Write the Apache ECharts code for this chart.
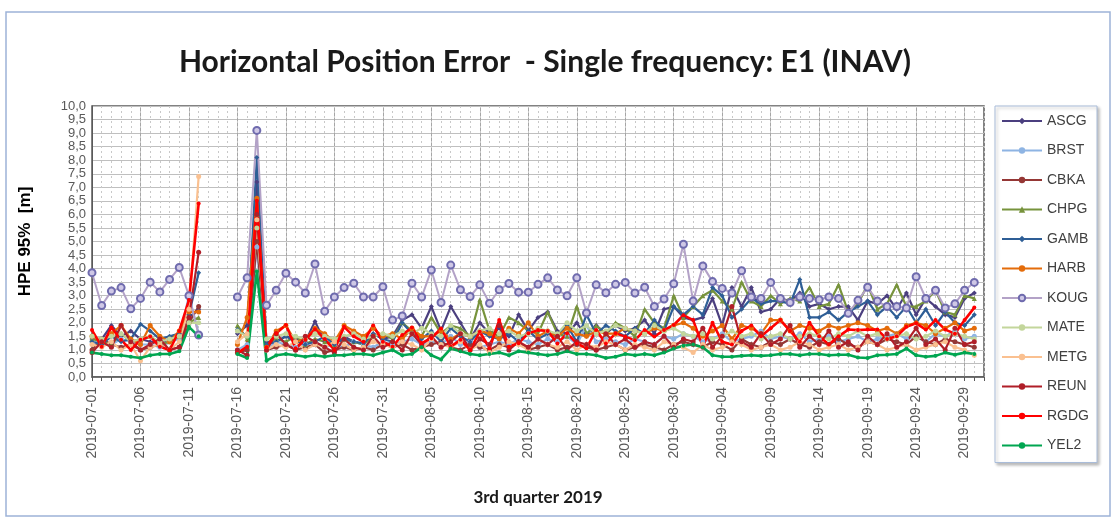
<!DOCTYPE html>
<html>
<head>
<meta charset="utf-8">
<script src="https://cdn.jsdelivr.net/npm/echarts@6/dist/echarts.min.js"></script>
<style>
  html, body { margin: 0; padding: 0; background: #fff; }
  #chart { width: 1117px; height: 519px; }
</style>
</head>
<body>
<div id="chart"></div>
<script>
// days 2019-07-01 .. 2019-10-01 (last one only closes the axis)
var days = [];
var d0 = Date.UTC(2019, 6, 1);
for (var i = 0; i < 93; i++) {
    days.push(new Date(d0 + i * 86400000).toISOString().slice(0, 10));
}

var stations = ['ASCG', 'BRST', 'CBKA', 'CHPG', 'GAMB', 'HARB', 'KOUG', 'MATE', 'METG', 'REUN', 'RGDG', 'YEL2'];
var colors = ['#4B3F7F', '#8EB4E3', '#953735', '#77933C', '#2E5E96', '#E46C0A', '#B3A2C7', '#C3D69B', '#FAC090', '#B01E28', '#FF0000', '#00A651'];

var n = null;
// HPE 95% [m], one value per day (jul / aug / sep)
var ASCG = [1.4, 1.4, 1.9, 1.5, 1.7, 1.4, 1.3, 1.25, 1.4, 1.6, 2.2, 2.5, n, n, n, 1.6, 1.9, 7.2, 1.3, 1.3, 1.5, 1.4, 1.3, 2.05, 1.3, 1.2, 1.5, 1.3, 1.2, 1.6, 1.4,
    1.5, 2.1, 2.3, 1.8, 2.6, 1.7, 2.6, 2.0, 1.4, 2.0, 1.6, 1.8, 1.5, 2.3, 1.7, 2.2, 2.4, 1.7, 1.6, 2.0, 1.5, 1.9, 1.6, 1.9, 1.7, 1.8, 2.1, 1.6, 2.5, 2.6, 2.2,
    2.1, 2.2, 2.9, 1.9, 3.3, 2.6, 3.3, 2.4, 2.5, 2.9, 2.8, 3.1, 2.6, 2.7, 2.5, 2.6, 2.6, 2.1, 2.8, 2.7, 3.0, 2.5, 3.1, 2.3, 2.9, 2.6, 2.3, 2.2, 2.9, 3.1];
var BRST = [1.3, 1.3, 1.2, 1.4, 1.3, 1.2, 1.2, 1.1, 1.3, 1.4, 3.0, 1.6, n, n, n, 1.0, 1.2, 4.8, 1.0, 1.3, 1.2, 1.1, 1.2, 1.3, 1.1, 1.2, 1.1, 1.3, 1.2, 1.1, 1.3,
    1.2, 1.3, 1.4, 1.2, 1.3, 1.2, 1.5, 1.2, 1.3, 1.1, 1.2, 1.3, 1.2, 1.4, 1.3, 1.2, 1.4, 1.3, 1.5, 1.2, 1.9, 1.3, 1.4, 1.3, 1.2, 1.4, 1.3, 1.2, 1.5, 1.4, 1.6,
    1.5, 1.3, 1.4, 1.6, 1.3, 1.4, 1.5, 1.7, 1.4, 1.5, 1.4, 1.6, 1.3, 1.4, 1.5, 1.3, 1.4, 1.5, 1.3, 1.4, 1.5, 1.6, 1.4, 1.5, 1.3, 1.6, 1.5, 1.7, 1.4, 1.5];
var CBKA = [1.0, 1.4, 1.2, 1.1, 1.2, 1.0, 1.1, 1.2, 1.0, 1.1, 2.0, 2.6, n, n, n, 0.9, 1.0, 5.0, 1.0, 1.1, 1.2, 1.0, 1.1, 1.2, 0.9, 1.0, 1.1, 1.0, 1.1, 1.0, 1.2,
    1.1, 1.2, 1.0, 1.1, 1.2, 1.3, 1.1, 1.0, 1.2, 1.1, 1.0, 1.2, 1.1, 1.3, 1.0, 1.1, 1.2, 1.0, 1.1, 1.2, 1.1, 1.0, 1.1, 1.2, 1.0, 1.1, 1.2, 1.1, 1.0, 1.2, 1.3,
    1.2, 1.1, 1.3, 1.2, 1.0, 1.4, 1.2, 1.1, 1.3, 1.2, 1.4, 1.2, 1.1, 1.3, 1.2, 1.4, 1.2, 1.1, 1.3, 1.2, 1.4, 1.3, 1.2, 1.5, 1.3, 1.2, 1.4, 1.3, 1.2, 1.1];
var CHPG = [1.4, 1.3, 1.2, 1.6, 1.3, 1.4, 1.5, 1.2, 1.3, 1.5, 2.0, 2.2, n, n, n, 1.9, 1.4, 6.0, 1.2, 1.4, 1.3, 1.5, 1.2, 1.4, 1.3, 1.2, 1.4, 1.3, 1.2, 1.5, 1.6,
    1.4, 2.0, 1.7, 1.5, 2.2, 1.6, 1.9, 1.8, 1.5, 2.85, 1.7, 1.5, 2.2, 2.0, 1.7, 1.6, 2.4, 1.6, 1.5, 2.6, 1.6, 1.9, 1.6, 2.0, 1.8, 1.5, 2.5, 2.0, 1.8, 3.0, 2.2,
    2.6, 3.0, 3.2, 2.8, 2.5, 3.5, 2.8, 2.6, 3.0, 2.7, 2.9, 2.8, 3.3, 2.6, 2.7, 3.4, 2.4, 2.7, 3.4, 2.5, 2.7, 3.4, 2.6, 2.6, 2.8, 3.2, 2.4, 2.3, 3.0, 2.9];
var GAMB = [1.3, 1.2, 1.5, 1.3, 1.4, 1.95, 1.7, 1.4, 1.5, 1.6, 2.3, 3.85, n, n, n, 1.75, 1.5, 8.1, 1.2, 1.3, 1.5, 1.3, 1.2, 1.3, 1.5, 1.2, 1.4, 1.3, 1.25, 1.6, 1.4,
    1.3, 2.0, 1.6, 1.4, 1.7, 1.3, 1.8, 1.5, 1.3, 1.7, 1.5, 1.4, 1.6, 1.3, 1.7, 1.4, 1.6, 1.5, 1.9, 1.3, 2.3, 1.6, 1.9, 1.7, 1.5, 1.8, 1.6, 2.1, 1.7, 2.6, 2.3,
    2.6, 2.3, 3.3, 3.0, 2.2, 2.5, 2.9, 2.7, 2.8, 2.8, 2.7, 3.6, 2.2, 2.2, 2.4, 2.1, 2.4, 2.6, 2.8, 2.3, 2.6, 2.2, 2.6, 2.0, 2.5, 1.9, 2.4, 2.0, 1.9, 2.3];
var HARB = [1.5, 1.3, 1.6, 1.9, 1.4, 1.2, 1.9, 1.5, 1.3, 1.7, 2.4, 2.4, n, n, n, 1.2, 2.2, 6.6, 1.1, 1.7, 1.9, 1.3, 1.4, 1.8, 1.6, 1.3, 1.9, 1.7, 1.5, 1.8, 1.5,
    1.6, 1.4, 1.8, 1.5, 1.5, 1.7, 1.4, 1.6, 1.5, 1.7, 1.6, 1.4, 1.8, 1.6, 2.0, 1.5, 1.7, 1.5, 1.8, 1.6, 1.5, 1.7, 1.6, 1.6, 1.8, 1.7, 1.6, 1.8, 1.7, 1.9, 2.0,
    1.8, 1.5, 1.7, 1.9, 1.4, 1.9, 1.8, 1.6, 2.1, 2.1, 1.7, 1.9, 1.8, 1.7, 1.9, 1.8, 1.9, 2.0, 1.9, 1.7, 1.8, 1.6, 1.9, 2.0, 1.9, 1.6, 1.8, 2.0, 1.7, 1.8];
var KOUG = [3.85, 2.64, 3.17, 3.3, 2.52, 2.9, 3.5, 3.14, 3.6, 4.04, 3.0, 1.55, n, n, n, 2.95, 3.66, 9.1, 2.65, 3.2, 3.83, 3.5, 3.1, 4.17, 2.43, 2.95, 3.3, 3.46, 2.95, 2.95, 3.33,
    2.1, 2.25, 3.46, 2.95, 3.95, 2.75, 4.13, 3.22, 2.97, 3.4, 2.72, 3.22, 3.45, 3.13, 3.13, 3.42, 3.66, 3.21, 3.0, 3.66, 2.36, 3.4, 3.11, 3.42, 3.49, 3.1, 3.31, 2.6, 2.88, 3.44, 4.9,
    2.8, 4.1, 3.52, 3.27, 3.1, 3.92, 2.95, 2.9, 3.49, 2.9, 2.75, 2.95, 2.9, 2.85, 2.95, 2.9, 2.35, 2.83, 3.31, 2.8, 2.6, 2.6, 2.55, 3.7, 2.9, 3.2, 2.55, 2.7, 3.2, 3.49];
var MATE = [1.5, 1.4, 1.5, 1.6, 1.3, 1.4, 1.5, 1.3, 1.4, 1.5, 2.0, 2.0, n, n, n, 1.7, 1.5, 5.5, 1.4, 1.5, 1.6, 1.5, 1.4, 1.6, 1.5, 1.4, 1.5, 1.6, 1.4, 1.5, 1.6,
    1.5, 1.7, 1.6, 1.8, 1.6, 1.5, 1.9, 1.6, 1.5, 1.7, 1.8, 1.6, 1.7, 1.5, 1.6, 1.8, 1.7, 1.6, 2.0, 1.7, 1.9, 1.6, 1.7, 1.9, 1.8, 1.7, 1.6, 1.9, 1.7, 1.8, 1.6,
    1.5, 1.6, 1.4, 1.5, 1.7, 1.5, 1.6, 1.4, 1.5, 1.6, 1.4, 1.5, 1.6, 1.5, 1.4, 1.6, 1.5, 1.7, 1.5, 1.6, 1.4, 1.5, 1.6, 1.4, 1.5, 1.7, 1.5, 1.6, 1.5, 1.4];
var METG = [1.2, 1.1, 1.3, 1.0, 1.2, 0.6, 1.1, 1.2, 1.0, 1.3, 2.5, 7.4, n, n, n, 1.3, 1.6, 5.8, 1.0, 1.2, 1.1, 1.3, 1.0, 1.2, 1.1, 1.3, 1.2, 1.0, 1.1, 1.3, 1.2,
    1.1, 1.3, 1.2, 1.0, 1.4, 1.2, 1.1, 1.3, 1.0, 1.2, 0.9, 1.1, 1.3, 1.2, 1.0, 1.4, 1.2, 1.1, 1.3, 1.0, 1.2, 1.1, 1.3, 1.2, 1.0, 1.2, 1.1, 1.0, 1.3, 1.2, 1.1,
    0.9, 1.2, 1.0, 1.1, 1.3, 1.2, 1.0, 1.1, 1.2, 1.0, 1.1, 1.3, 1.2, 1.0, 1.1, 1.2, 1.0, 1.1, 1.3, 1.2, 1.0, 1.1, 1.2, 1.0, 1.1, 1.2, 1.3, 1.1, 1.0, 0.8];
var REUN = [0.9, 1.3, 1.1, 1.9, 1.3, 1.0, 1.2, 1.4, 1.0, 1.1, 2.2, 4.6, n, n, n, 1.0, 0.8, 6.0, 1.0, 1.6, 1.2, 1.0, 1.5, 1.3, 1.1, 0.9, 1.4, 1.1, 1.0, 1.5, 1.1,
    1.3, 1.0, 1.6, 1.2, 1.5, 1.1, 1.3, 1.6, 1.0, 1.4, 1.2, 1.9, 1.0, 1.3, 1.1, 1.4, 1.2, 1.5, 1.0, 1.3, 1.2, 1.0, 1.6, 1.2, 1.4, 1.1, 1.3, 1.2, 1.5, 1.1, 1.4,
    1.3, 1.8, 1.1, 1.5, 2.6, 1.3, 1.1, 1.6, 1.2, 1.4, 1.9, 1.1, 1.5, 1.2, 1.7, 1.1, 1.3, 1.0, 1.5, 1.2, 1.6, 1.1, 1.3, 1.8, 1.2, 1.4, 1.0, 1.8, 1.2, 1.3];
var RGDG = [1.73, 1.12, 1.83, 1.37, 1.0, 1.37, 1.49, 1.12, 1.0, 1.7, 2.84, 6.4, n, n, n, 0.88, 1.12, 6.5, 1.1, 1.61, 1.92, 1.06, 1.37, 1.76, 1.4, 1.0, 1.85, 1.5, 1.3, 1.9, 1.3,
    1.12, 1.55, 1.83, 1.25, 1.43, 1.79, 1.12, 1.37, 1.0, 1.67, 1.06, 2.1, 1.12, 1.25, 1.61, 1.73, 1.7, 1.24, 1.61, 1.24, 1.06, 1.73, 1.24, 1.61, 1.49, 1.36, 1.73, 1.49, 1.73, 1.92, 2.28,
    2.1, 1.12, 2.0, 1.3, 1.2, 1.7, 1.9, 1.5, 1.8, 2.1, 1.7, 1.3, 2.0, 1.5, 1.2, 1.5, 1.75, 1.73, 1.75, 1.75, 1.4, 1.5, 1.85, 1.98, 1.75, 2.1, 1.75, 1.6, 2.1, 2.56];
var YEL2 = [0.9, 0.85, 0.8, 0.8, 0.75, 0.7, 0.8, 0.85, 0.85, 0.95, 1.85, 1.5, n, n, n, 0.85, 0.7, 3.9, 0.6, 0.8, 0.85, 0.8, 0.75, 0.8, 0.75, 0.8, 0.8, 0.85, 0.85, 0.8, 0.9,
    1.0, 0.8, 0.85, 1.1, 0.8, 0.65, 1.05, 0.95, 0.85, 0.8, 0.85, 0.9, 0.8, 0.95, 0.9, 0.85, 0.8, 0.85, 0.95, 0.85, 0.85, 0.8, 0.7, 0.75, 0.85, 0.8, 0.85, 0.8, 0.9, 1.05, 1.15,
    1.2, 1.1, 0.8, 0.75, 0.75, 0.78, 0.8, 0.78, 0.8, 0.85, 0.85, 0.8, 0.85, 0.85, 0.8, 0.82, 0.82, 0.72, 0.7, 0.8, 0.82, 0.85, 1.05, 0.8, 0.75, 0.78, 0.9, 0.82, 0.9, 0.85];

var values = [ASCG, BRST, CBKA, CHPG, GAMB, HARB, KOUG, MATE, METG, REUN, RGDG, YEL2];
var symbols = ['diamond', 'circle', 'circle', 'triangle', 'diamond', 'circle', 'circle', 'circle', 'circle', 'circle', 'circle', 'circle'];

var chart = echarts.init(document.getElementById('chart'));

var series = stations.map(function (name, k) {
    var s = {
        name: name,
        type: 'line',
        data: values[k],
        connectNulls: false,
        symbol: symbols[k],
        symbolSize: 5,
        showSymbol: true,
        showAllSymbol: true,
        lineStyle: { width: 2.2, color: colors[k] },
        itemStyle: { color: colors[k] },
        emphasis: { disabled: true },
        z: 2
    };
    if (name === 'KOUG') {
        s.symbolSize = 7;
        s.lineStyle.width = 2;
        s.itemStyle = { color: '#CFC8E6', borderColor: '#6F6BAE', borderWidth: 2 };
    }
    if (name === 'RGDG' || name === 'YEL2') {
        s.lineStyle.width = 2.6;
        s.symbolSize = 4;
    }
    return s;
});

var option = {
    backgroundColor: '#fff',
    animation: false,
    title: {
        text: 'Horizontal Position Error  - Single frequency: E1 (INAV)',
        left: 540,
        textAlign: 'center',
        top: 42,
        textStyle: { fontFamily: 'Lato', fontWeight: 'bold', fontSize: 30, color: '#1A1A1A' }
    },
    graphic: [{
        type: 'rect',
        shape: { x: 6, y: 12, width: 1104, height: 504 },
        style: { fill: 'none', stroke: '#9DB3D8', lineWidth: 1.5 },
        silent: true
    }],
    legend: {
        orient: 'vertical',
        left: 995,
        top: 106,
        itemWidth: 40,
        itemHeight: 8,
        itemGap: 15.5,
        padding: [8, 8, 10, 6],
        backgroundColor: '#fff',
        borderColor: '#A9BCD9',
        borderWidth: 1,
        shadowBlur: 3,
        shadowColor: 'rgba(0,0,0,0.25)',
        shadowOffsetX: 2,
        shadowOffsetY: 2,
        textStyle: { fontFamily: 'Liberation Sans', fontSize: 14, color: '#404040' },
        data: stations
    },
    grid: {
        left: 92,
        right: 133,
        top: 106,
        bottom: 142,
        show: true,
        borderColor: '#595959',
        borderWidth: 1.5,
        outerBoundsMode: 'none'
    },
    xAxis: [{
        type: 'category',
        data: days,
        boundaryGap: false,
        name: '3rd quarter 2019',
        nameLocation: 'middle',
        nameGap: 112,
        nameTextStyle: { fontFamily: 'Lato', fontWeight: 'bold', fontSize: 17, color: '#1A1A1A' },
        axisLine: { lineStyle: { color: '#595959', width: 1.5 } },
        axisTick: { show: true, interval: 0, length: 4, lineStyle: { color: '#595959' } },
        axisLabel: {
            interval: 4,
            rotate: 90,
            margin: 10,
            fontFamily: 'Liberation Sans',
            fontSize: 14,
            color: '#595959'
        },
        splitLine: { show: true, interval: 4, lineStyle: { color: '#A6A6A6', width: 1 } }
    }, {
        type: 'category',
        data: days,
        boundaryGap: false,
        position: 'bottom',
        axisLine: { show: false },
        axisTick: { show: false },
        axisLabel: { show: false },
        splitLine: { show: true, interval: 0, lineStyle: { color: '#C8C8C8', width: 1, type: [2, 3] } }
    }],
    yAxis: {
        type: 'value',
        min: 0,
        max: 10,
        interval: 0.5,
        name: 'HPE 95%  [m]',
        nameLocation: 'middle',
        nameRotate: 90,
        nameGap: 58,
        nameTextStyle: { fontFamily: 'Liberation Sans', fontWeight: 'bold', fontSize: 17, color: '#000' },
        axisLine: { show: true, lineStyle: { color: '#595959' } },
        axisTick: { show: false },
        axisLabel: {
            margin: 6,
            fontFamily: 'Liberation Sans',
            fontSize: 13,
            color: '#595959',
            showMinLabel: true,
            showMaxLabel: true,
            formatter: function (v) { return v.toFixed(1).replace('.', ','); }
        },
        splitLine: { show: true, lineStyle: { color: '#BFBFBF', width: 1 } }
    },
    series: series
};

chart.setOption(option);
</script>
</body>
</html>
